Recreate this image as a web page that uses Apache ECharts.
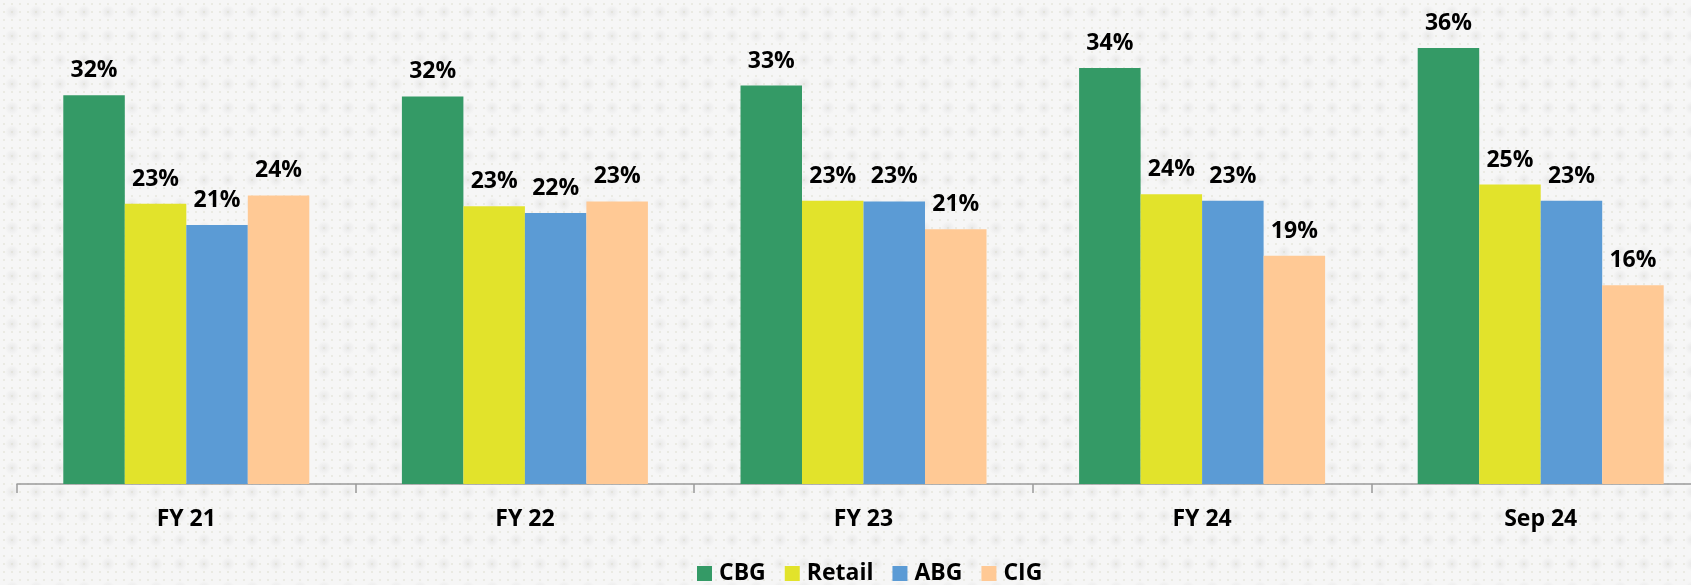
<!DOCTYPE html>
<html>
<head>
<meta charset="utf-8">
<script src="https://cdn.jsdelivr.net/npm/echarts@6/dist/echarts.min.js"></script>
<style>
html,body{margin:0;padding:0;background:#f6f6f6;overflow:hidden;}
#chart{width:1710px;height:585px;}
</style>
</head>
<body>
<div id="chart"></div>
<script>
const categories = ['FY 21', 'FY 22', 'FY 23', 'FY 24', 'Sep 24'];
const seriesNames = ['CBG', 'Retail', 'ABG', 'CIG'];
const cbg    = [32.2, 32.1, 33.0, 34.45, 36.1];
const retail = [23.2, 23.0, 23.45, 24.0, 24.8];
const abg    = [21.45, 22.45, 23.4, 23.45, 23.45];
const cig    = [23.9, 23.4, 21.1, 18.9, 16.45];
const colors = ['#349A66', '#E2E32B', '#5B9BD5', '#FFC995'];

// background dotted pattern
function makePattern() {
  const c = document.createElement('canvas');
  c.width = 24; c.height = 24;
  const g = c.getContext('2d');
  g.fillStyle = '#f6f6f6';
  g.fillRect(0, 0, 24, 24);
  const grad = g.createRadialGradient(12, 12, 0, 12, 12, 7);
  grad.addColorStop(0, 'rgba(200,200,200,0.3)');
  grad.addColorStop(1, 'rgba(200,200,200,0)');
  g.fillStyle = grad;
  g.fillRect(0, 0, 24, 24);
  g.fillStyle = 'rgba(220,220,205,0.45)';
  for (let x = 0; x < 24; x += 8) {
    for (let y = 0; y < 24; y += 8) {
      g.fillRect(x + 3, y + 3, 2, 2);
    }
  }
  return c;
}

const chart = echarts.init(document.getElementById('chart'));
const dataLists = [cbg, retail, abg, cig];
const font = '"Open Sans", "DejaVu Sans", sans-serif';

chart.setOption({
  backgroundColor: { image: makePattern(), repeat: 'repeat' },
  animation: false,
  legend: {
    data: seriesNames,
    padding: 0,
    bottom: 0,
    left: 697,
    itemWidth: 15,
    itemHeight: 15,
    itemGap: 19,
    icon: 'rect',
    textStyle: { fontFamily: font, fontWeight: 'bold', fontSize: 23, color: '#000', padding: [0, 0, 0, 2] }
  },
  grid: { left: 17, top: 1, right: 0, bottom: 101, containLabel: false },
  xAxis: {
    type: 'category',
    data: categories,
    axisLine: { lineStyle: { color: '#9a9a9a', width: 1.5 } },
    axisTick: { show: true, length: 9, lineStyle: { color: '#9a9a9a', width: 1.5 } },
    axisLabel: { margin: 24, fontFamily: font, fontWeight: 'bold', fontSize: 23, color: '#000' }
  },
  yAxis: {
    type: 'value', min: 0, max: 40, show: false,
    splitLine: { show: false }
  },
  series: seriesNames.map((n, i) => ({
    name: n,
    type: 'bar',
    data: dataLists[i],
    barWidth: 61.5,
    barGap: '0%',
    itemStyle: { color: colors[i] },
    label: {
      show: true,
      position: 'top',
      distance: 13,
      formatter: p => Math.round(p.value) + '%',
      fontFamily: font, fontWeight: 'bold', fontSize: 23, color: '#000'
    }
  }))
});
</script>
</body>
</html>
